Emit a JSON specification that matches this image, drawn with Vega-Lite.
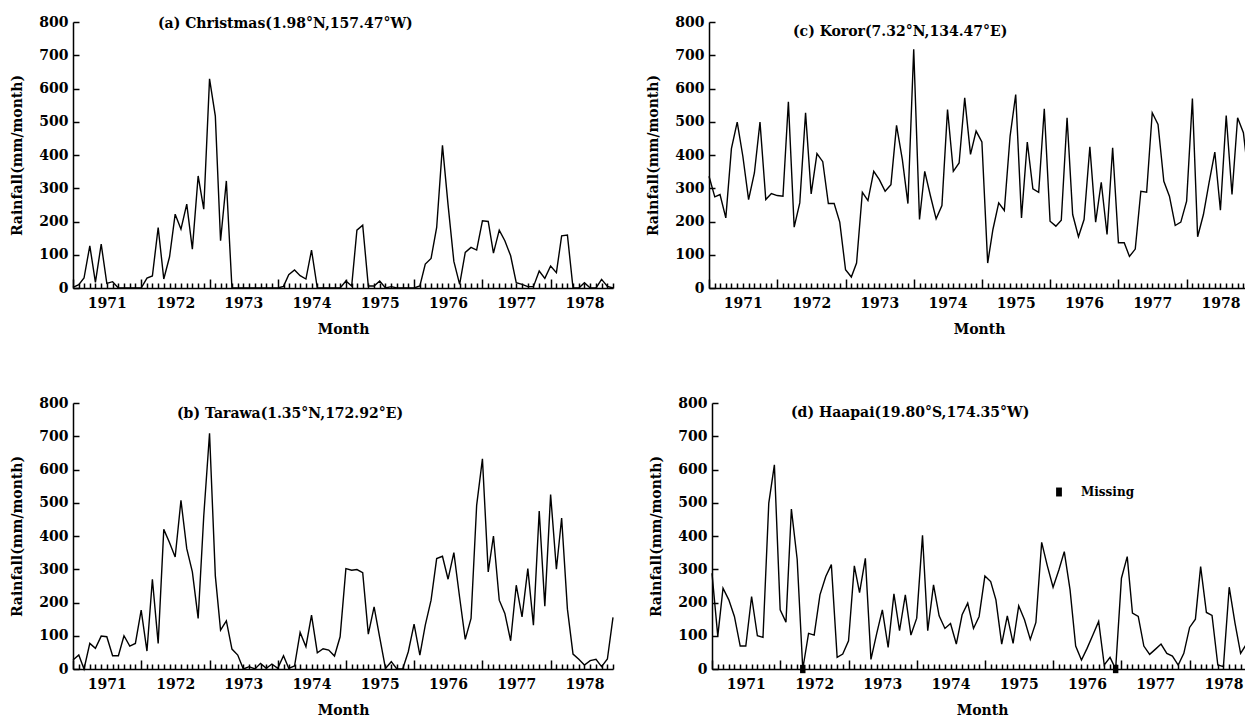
{
  "$schema": "https://vega.github.io/schema/vega-lite/v6.json",
  "background": "white",
  "padding": {"left": 10, "top": 15, "right": 0, "bottom": 0},
  "datasets": {
    "rain": [
      {"month":"1971-01","Christmas":2,"Tarawa":27,"Koror":336,"Haapai":288},
      {"month":"1971-02","Christmas":10,"Tarawa":42,"Koror":274,"Haapai":99},
      {"month":"1971-03","Christmas":30,"Tarawa":0,"Koror":281,"Haapai":243},
      {"month":"1971-04","Christmas":127,"Tarawa":77,"Koror":211,"Haapai":208},
      {"month":"1971-05","Christmas":17,"Tarawa":62,"Koror":419,"Haapai":158},
      {"month":"1971-06","Christmas":132,"Tarawa":99,"Koror":499,"Haapai":69},
      {"month":"1971-07","Christmas":14,"Tarawa":97,"Koror":397,"Haapai":69},
      {"month":"1971-08","Christmas":19,"Tarawa":40,"Koror":266,"Haapai":218},
      {"month":"1971-09","Christmas":0,"Tarawa":40,"Koror":346,"Haapai":100},
      {"month":"1971-10","Christmas":0,"Tarawa":100,"Koror":499,"Haapai":95},
      {"month":"1971-11","Christmas":0,"Tarawa":69,"Koror":266,"Haapai":499},
      {"month":"1971-12","Christmas":0,"Tarawa":77,"Koror":284,"Haapai":614},
      {"month":"1972-01","Christmas":0,"Tarawa":177,"Koror":278,"Haapai":178},
      {"month":"1972-02","Christmas":30,"Tarawa":54,"Koror":276,"Haapai":141},
      {"month":"1972-03","Christmas":36,"Tarawa":270,"Koror":560,"Haapai":481},
      {"month":"1972-04","Christmas":182,"Tarawa":77,"Koror":183,"Haapai":330},
      {"month":"1972-05","Christmas":27,"Tarawa":420,"Koror":256,"Haapai":0},
      {"month":"1972-06","Christmas":94,"Tarawa":380,"Koror":527,"Haapai":107},
      {"month":"1972-07","Christmas":222,"Tarawa":337,"Koror":283,"Haapai":102},
      {"month":"1972-08","Christmas":177,"Tarawa":507,"Koror":404,"Haapai":223},
      {"month":"1972-09","Christmas":252,"Tarawa":362,"Koror":380,"Haapai":278},
      {"month":"1972-10","Christmas":117,"Tarawa":292,"Koror":254,"Haapai":314},
      {"month":"1972-11","Christmas":337,"Tarawa":152,"Koror":254,"Haapai":35},
      {"month":"1972-12","Christmas":237,"Tarawa":460,"Koror":198,"Haapai":45},
      {"month":"1973-01","Christmas":629,"Tarawa":709,"Koror":55,"Haapai":85},
      {"month":"1973-02","Christmas":517,"Tarawa":280,"Koror":33,"Haapai":310},
      {"month":"1973-03","Christmas":142,"Tarawa":117,"Koror":75,"Haapai":230},
      {"month":"1973-04","Christmas":322,"Tarawa":145,"Koror":288,"Haapai":333},
      {"month":"1973-05","Christmas":0,"Tarawa":60,"Koror":263,"Haapai":29},
      {"month":"1973-06","Christmas":0,"Tarawa":42,"Koror":351,"Haapai":107},
      {"month":"1973-07","Christmas":0,"Tarawa":0,"Koror":326,"Haapai":178},
      {"month":"1973-08","Christmas":0,"Tarawa":7,"Koror":291,"Haapai":65},
      {"month":"1973-09","Christmas":0,"Tarawa":0,"Koror":311,"Haapai":226},
      {"month":"1973-10","Christmas":0,"Tarawa":17,"Koror":489,"Haapai":115},
      {"month":"1973-11","Christmas":0,"Tarawa":2,"Koror":387,"Haapai":223},
      {"month":"1973-12","Christmas":0,"Tarawa":15,"Koror":254,"Haapai":102},
      {"month":"1974-01","Christmas":0,"Tarawa":2,"Koror":718,"Haapai":153},
      {"month":"1974-02","Christmas":5,"Tarawa":40,"Koror":206,"Haapai":402},
      {"month":"1974-03","Christmas":40,"Tarawa":2,"Koror":351,"Haapai":115},
      {"month":"1974-04","Christmas":54,"Tarawa":9,"Koror":276,"Haapai":253},
      {"month":"1974-05","Christmas":37,"Tarawa":110,"Koror":208,"Haapai":160},
      {"month":"1974-06","Christmas":27,"Tarawa":67,"Koror":248,"Haapai":122},
      {"month":"1974-07","Christmas":114,"Tarawa":162,"Koror":537,"Haapai":137},
      {"month":"1974-08","Christmas":0,"Tarawa":49,"Koror":351,"Haapai":75},
      {"month":"1974-09","Christmas":0,"Tarawa":61,"Koror":376,"Haapai":163},
      {"month":"1974-10","Christmas":0,"Tarawa":57,"Koror":572,"Haapai":198},
      {"month":"1974-11","Christmas":0,"Tarawa":39,"Koror":402,"Haapai":122},
      {"month":"1974-12","Christmas":0,"Tarawa":97,"Koror":472,"Haapai":158},
      {"month":"1975-01","Christmas":21,"Tarawa":302,"Koror":439,"Haapai":280},
      {"month":"1975-02","Christmas":6,"Tarawa":297,"Koror":75,"Haapai":263},
      {"month":"1975-03","Christmas":174,"Tarawa":299,"Koror":176,"Haapai":208},
      {"month":"1975-04","Christmas":189,"Tarawa":290,"Koror":256,"Haapai":75},
      {"month":"1975-05","Christmas":6,"Tarawa":105,"Koror":233,"Haapai":160},
      {"month":"1975-06","Christmas":6,"Tarawa":187,"Koror":457,"Haapai":77},
      {"month":"1975-07","Christmas":21,"Tarawa":95,"Koror":582,"Haapai":190},
      {"month":"1975-08","Christmas":0,"Tarawa":2,"Koror":211,"Haapai":148},
      {"month":"1975-09","Christmas":4,"Tarawa":22,"Koror":439,"Haapai":89},
      {"month":"1975-10","Christmas":0,"Tarawa":0,"Koror":298,"Haapai":140},
      {"month":"1975-11","Christmas":0,"Tarawa":0,"Koror":288,"Haapai":381},
      {"month":"1975-12","Christmas":0,"Tarawa":52,"Koror":539,"Haapai":311},
      {"month":"1976-01","Christmas":0,"Tarawa":135,"Koror":201,"Haapai":246},
      {"month":"1976-02","Christmas":6,"Tarawa":42,"Koror":186,"Haapai":298},
      {"month":"1976-03","Christmas":72,"Tarawa":132,"Koror":204,"Haapai":353},
      {"month":"1976-04","Christmas":89,"Tarawa":207,"Koror":512,"Haapai":238},
      {"month":"1976-05","Christmas":182,"Tarawa":332,"Koror":221,"Haapai":69},
      {"month":"1976-06","Christmas":429,"Tarawa":339,"Koror":154,"Haapai":27},
      {"month":"1976-07","Christmas":250,"Tarawa":270,"Koror":206,"Haapai":62},
      {"month":"1976-08","Christmas":80,"Tarawa":350,"Koror":425,"Haapai":102},
      {"month":"1976-09","Christmas":11,"Tarawa":215,"Koror":198,"Haapai":143},
      {"month":"1976-10","Christmas":107,"Tarawa":89,"Koror":318,"Haapai":12},
      {"month":"1976-11","Christmas":122,"Tarawa":152,"Koror":161,"Haapai":35},
      {"month":"1976-12","Christmas":114,"Tarawa":492,"Koror":422,"Haapai":0},
      {"month":"1977-01","Christmas":202,"Tarawa":632,"Koror":136,"Haapai":273},
      {"month":"1977-02","Christmas":200,"Tarawa":292,"Koror":136,"Haapai":338},
      {"month":"1977-03","Christmas":105,"Tarawa":400,"Koror":95,"Haapai":168},
      {"month":"1977-04","Christmas":174,"Tarawa":207,"Koror":117,"Haapai":158},
      {"month":"1977-05","Christmas":142,"Tarawa":167,"Koror":291,"Haapai":69},
      {"month":"1977-06","Christmas":97,"Tarawa":85,"Koror":288,"Haapai":44},
      {"month":"1977-07","Christmas":16,"Tarawa":252,"Koror":527,"Haapai":59},
      {"month":"1977-08","Christmas":11,"Tarawa":157,"Koror":492,"Haapai":75},
      {"month":"1977-09","Christmas":4,"Tarawa":302,"Koror":321,"Haapai":47},
      {"month":"1977-10","Christmas":4,"Tarawa":132,"Koror":276,"Haapai":39},
      {"month":"1977-11","Christmas":51,"Tarawa":475,"Koror":188,"Haapai":12},
      {"month":"1977-12","Christmas":29,"Tarawa":189,"Koror":198,"Haapai":47},
      {"month":"1978-01","Christmas":66,"Tarawa":525,"Koror":261,"Haapai":125},
      {"month":"1978-02","Christmas":46,"Tarawa":300,"Koror":570,"Haapai":150},
      {"month":"1978-03","Christmas":157,"Tarawa":454,"Koror":154,"Haapai":308},
      {"month":"1978-04","Christmas":159,"Tarawa":180,"Koror":221,"Haapai":170},
      {"month":"1978-05","Christmas":0,"Tarawa":45,"Koror":316,"Haapai":161},
      {"month":"1978-06","Christmas":0,"Tarawa":29,"Koror":409,"Haapai":12},
      {"month":"1978-07","Christmas":16,"Tarawa":12,"Koror":234,"Haapai":7},
      {"month":"1978-08","Christmas":0,"Tarawa":25,"Koror":519,"Haapai":246},
      {"month":"1978-09","Christmas":0,"Tarawa":29,"Koror":281,"Haapai":138},
      {"month":"1978-10","Christmas":26,"Tarawa":7,"Koror":512,"Haapai":47},
      {"month":"1978-11","Christmas":5,"Tarawa":30,"Koror":467,"Haapai":75},
      {"month":"1978-12","Christmas":0,"Tarawa":155,"Koror":321,"Haapai":90}
    ],
    "missing": [
      {"month":"1972-05","Haapai":0,"status":"Missing"},
      {"month":"1976-12","Haapai":0,"status":"Missing"}
    ]
  },
  "config": {
    "view": {"stroke": null},
    "font": "DejaVu Serif",
    "axis": {
      "domainColor": "black", "domainWidth": 1.5,
      "tickColor": "black", "tickWidth": 1.5,
      "labelColor": "black", "titleColor": "black",
      "labelFont": "DejaVu Serif", "labelFontSize": 14, "labelFontWeight": "bold",
      "titleFont": "DejaVu Serif", "titleFontSize": 14, "titleFontWeight": "bold",
      "grid": false
    },
    "title": {"font": "DejaVu Serif", "fontSize": 14, "fontWeight": "bold", "color": "black"},
    "line": {"color": "black", "strokeWidth": 1.4},
    "legend": {"labelFont": "DejaVu Serif", "labelFontSize": 12, "labelFontWeight": "bold", "labelColor": "black"}
  },
  "spacing": 60,
  "vconcat": [
    {
      "spacing": 30,
      "hconcat": [
        {
          "width": 540, "height": 266,
          "title": {"text": "(a) Christmas(1.98°N,157.47°W)", "anchor": "start", "frame": "group", "dx": 85, "baseline": "middle", "offset": -23},
          "data": {"name": "rain"},
          "mark": {"type": "line"},
          "encoding": {
            "x": {"field": "month", "type": "temporal",
              "scale": {"type": "utc", "nice": false, "domain": [{"year": 1971, "month": 1, "date": 1, "utc": true}, {"year": 1978, "month": 12, "date": 1, "utc": true}]},
              "axis": {"title": "Month", "tickCount": {"interval": "month", "step": 1}, "ticks": true,
                "tickSize": {"condition": {"test": "utcmonth(datum.value) == 0", "value": -9}, "value": -5},
                "labelExpr": "utcmonth(datum.value) == 6 ? utcFormat(datum.value, '%Y') : ''",
                "labelPadding": 13, "labelOverlap": false, "labelFlush": false, "titlePadding": 12}},
            "y": {"field": "Christmas", "type": "quantitative", "scale": {"domain": [0, 800], "nice": false},
              "axis": {"title": "Rainfall(mm/month)", "values": [0,100,200,300,400,500,600,700,800], "ticks": true, "tickSize": -6,
                "labelPadding": 11, "titlePadding": 14}}
          }
        },
        {
          "width": 540, "height": 266,
          "title": {"text": "(c) Koror(7.32°N,134.47°E)", "anchor": "start", "frame": "group", "dx": 84, "baseline": "middle", "offset": -31},
          "data": {"name": "rain"},
          "mark": {"type": "line"},
          "encoding": {
            "x": {"field": "month", "type": "temporal",
              "scale": {"type": "utc", "nice": false, "domain": [{"year": 1971, "month": 1, "date": 1, "utc": true}, {"year": 1978, "month": 12, "date": 1, "utc": true}]},
              "axis": {"title": "Month", "tickCount": {"interval": "month", "step": 1}, "ticks": true,
                "tickSize": {"condition": {"test": "utcmonth(datum.value) == 0", "value": -9}, "value": -5},
                "labelExpr": "utcmonth(datum.value) == 6 ? utcFormat(datum.value, '%Y') : ''",
                "labelPadding": 13, "labelOverlap": false, "labelFlush": false, "titlePadding": 12}},
            "y": {"field": "Koror", "type": "quantitative", "scale": {"domain": [0, 800], "nice": false},
              "axis": {"title": "Rainfall(mm/month)", "values": [0,100,200,300,400,500,600,700,800], "ticks": true, "tickSize": -6,
                "labelPadding": 11, "titlePadding": 14}}
          }
        }
      ]
    },
    {
      "spacing": 33,
      "hconcat": [
        {
          "width": 540, "height": 266,
          "title": {"text": "(b) Tarawa(1.35°N,172.92°E)", "anchor": "start", "frame": "group", "dx": 104, "baseline": "middle", "offset": -32},
          "data": {"name": "rain"},
          "mark": {"type": "line"},
          "encoding": {
            "x": {"field": "month", "type": "temporal",
              "scale": {"type": "utc", "nice": false, "domain": [{"year": 1971, "month": 1, "date": 1, "utc": true}, {"year": 1978, "month": 12, "date": 1, "utc": true}]},
              "axis": {"title": "Month", "tickCount": {"interval": "month", "step": 1}, "ticks": true,
                "tickSize": {"condition": {"test": "utcmonth(datum.value) == 0", "value": -9}, "value": -5},
                "labelExpr": "utcmonth(datum.value) == 6 ? utcFormat(datum.value, '%Y') : ''",
                "labelPadding": 13, "labelOverlap": false, "labelFlush": false, "titlePadding": 12}},
            "y": {"field": "Tarawa", "type": "quantitative", "scale": {"domain": [0, 800], "nice": false},
              "axis": {"title": "Rainfall(mm/month)", "values": [0,100,200,300,400,500,600,700,800], "ticks": true, "tickSize": -6,
                "labelPadding": 11, "titlePadding": 14}}
          }
        },
        {
          "width": 540, "height": 266,
          "title": {"text": "(d) Haapai(19.80°S,174.35°W)", "anchor": "start", "frame": "group", "dx": 79, "baseline": "middle", "offset": -31},
          "encoding": {
            "x": {"field": "month", "type": "temporal",
              "scale": {"type": "utc", "nice": false, "domain": [{"year": 1971, "month": 1, "date": 1, "utc": true}, {"year": 1978, "month": 12, "date": 1, "utc": true}]},
              "axis": {"title": "Month", "tickCount": {"interval": "month", "step": 1}, "ticks": true,
                "tickSize": {"condition": {"test": "utcmonth(datum.value) == 0", "value": -9}, "value": -5},
                "labelExpr": "utcmonth(datum.value) == 6 ? utcFormat(datum.value, '%Y') : ''",
                "labelPadding": 13, "labelOverlap": false, "labelFlush": false, "titlePadding": 12}},
            "y": {"field": "Haapai", "type": "quantitative", "scale": {"domain": [0, 800], "nice": false},
              "axis": {"title": "Rainfall(mm/month)", "values": [0,100,200,300,400,500,600,700,800], "ticks": true, "tickSize": -6,
                "labelPadding": 11, "titlePadding": 14}}
          },
          "layer": [
            {
              "data": {"name": "rain"},
              "mark": {"type": "line"}
            },
            {
              "data": {"name": "missing"},
              "mark": {"type": "point", "filled": true, "color": "black", "opacity": 1, "size": 70},
              "encoding": {
                "shape": {"field": "status", "type": "nominal",
                  "scale": {"range": ["M-0.65,-1H0.65V1H-0.65Z"]},
                  "legend": {"title": null, "orient": "none", "legendX": 980, "legendY": 464,
                    "symbolFillColor": "black", "symbolStrokeColor": "black", "symbolSize": 80, "symbolOpacity": 1,
                    "labelOffset": 16}}
              }
            }
          ]
        }
      ]
    }
  ]
}
